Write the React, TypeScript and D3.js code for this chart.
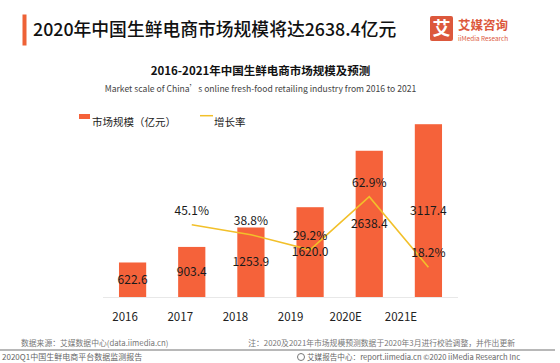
import React from 'react';
import * as d3 from 'd3';

const years = ['2016', '2017', '2018', '2019', '2020E', '2021E'];
const market = [622.6, 903.4, 1253.9, 1620.0, 2638.4, 3117.4];
const marketLabels = ['622.6', '903.4', '1253.9', '1620.0', '2638.4', '3117.4'];
const growth: (number | null)[] = [null, 45.1, 38.8, 29.2, 62.9, 18.2];

const title = '2020年中国生鲜电商市场规模将达2638.4亿元';
const chartTitle = '2016-2021年中国生鲜电商市场规模及预测';
const chartSubtitle = 'Market scale of China’s online fresh-food retailing industry from 2016 to 2021';
const legendBar = '市场规模（亿元）';
const legendLine = '增长率';
const sourceText = '数据来源：艾媒数据中心(data.iimedia.cn)';
const noteText = '注：2020及2021年市场规模预测数据于2020年3月进行校验调整，并作出更新';
const reportText = '2020Q1中国生鲜电商平台数据监测报告';
const copyrightText = '艾媒报告中心：report.iimedia.cn  ©2020  iiMedia Research Inc';

const W = 560;
const H = 363;
const FONT = '"Noto Sans CJK SC", "Noto Sans", sans-serif';
const BAR = '#F5623A';
const LINE = '#F2C02A';
const BRAND = '#DC583C';

export default function App() {
  const x = d3.scaleBand<string>().domain(years).range([103, 458]).paddingInner(0.54).paddingOuter(0.27);
  const xTick = d3.scaleBand<string>().domain(years).range([97.5, 428.5]);
  const y = d3.scaleLinear().domain([0, 3500]).range([297, 103]);
  const y2 = d3.scaleLinear().domain([0, 70]).range([296, 185.4]);

  const pts = years
    .map((yr, i) => ({ yr, v: growth[i] }))
    .filter((d) => d.v !== null) as { yr: string; v: number }[];
  const line = d3
    .line<{ yr: string; v: number }>()
    .x((d) => (x(d.yr) ?? 0) + x.bandwidth() / 2)
    .y((d) => y2(d.v));

  return (
    <svg width={W} height={H} style={{ position: 'absolute', left: 0, top: 0, background: '#fff' }} fontFamily={FONT}>
      {/* header */}
      <rect x={22.5} y={14.5} width={4} height={31} fill="#EE6236" />
      <text x={33} y={36} fontSize={17.8} fill="#111" fontWeight={500}>{title}</text>
      {/* logo */}
      <rect x={430} y={16} width={23} height={25} rx={2} fill={BRAND} />
      <text x={441.5} y={35} fontSize={18} fontWeight={700} fill="#fff" textAnchor="middle">艾</text>
      <text x={458} y={29.5} fontSize={12.5} fontWeight={700} fill={BRAND}>艾媒咨询</text>
      <text x={458} y={40.5} fontSize={6.4} fill={BRAND}>iiMedia Research</text>

      {/* chart titles */}
      <text x={260.5} y={75} fontSize={11.5} fontWeight={700} fill="#111" textAnchor="middle">{chartTitle}</text>
      <text x={260.5} y={92} fontSize={8.6} fill="#444" textAnchor="middle">{chartSubtitle}</text>

      {/* legend */}
      <rect x={79} y={114} width={11} height={5} fill={BAR} />
      <text x={92} y={125.5} fontSize={10.5} fill="#222">{legendBar}</text>
      <line x1={200} x2={213} y1={115.7} y2={115.7} stroke={LINE} strokeWidth={1.5} />
      <text x={214} y={125.5} fontSize={10.5} fill="#222">{legendLine}</text>

      {/* axis line */}
      <line x1={103} x2={458} y1={297.5} y2={297.5} stroke="#e8e8e8" strokeWidth={1} />

      {/* bars */}
      {years.map((yr, i) => (
        <rect key={yr} x={x(yr)} y={y(market[i])} width={x.bandwidth()} height={y(0) - y(market[i])} fill={BAR} />
      ))}

      {/* line */}
      <path d={line(pts) ?? ''} fill="none" stroke={LINE} strokeWidth={1.6} />

      {/* bar labels */}
      {years.map((yr, i) => (
        <text
          key={'bl' + yr}
          x={(x(yr) ?? 0) + x.bandwidth() / 2}
          y={(y(market[i]) + y(0)) / 2}
          dy="0.35em"
          fontSize={12}
          fill="#1a1a1a"
          textAnchor="middle"
        >
          {marketLabels[i]}
        </text>
      ))}

      {/* growth labels */}
      {pts.map((d) => (
        <text
          key={'gl' + d.yr}
          x={(x(d.yr) ?? 0) + x.bandwidth() / 2}
          y={y2(d.v) - 14}
          dy="0.35em"
          fontSize={12}
          fill="#1a1a1a"
          textAnchor="middle"
        >
          {d.v.toFixed(1)}%
        </text>
      ))}

      {/* tick labels */}
      {years.map((yr) => (
        <text key={'t' + yr} x={(xTick(yr) ?? 0) + xTick.bandwidth() / 2} y={321} fontSize={11.5} fill="#222" textAnchor="middle">
          {yr}
        </text>
      ))}

      {/* footer */}
      <text x={21} y={345.5} fontSize={7.8} fill="#777">{sourceText}</text>
      <text x={515} y={345.5} fontSize={7.8} fill="#777" textAnchor="end">{noteText}</text>
      <line x1={0} x2={555} y1={350} y2={350} stroke="#a0a0a0" strokeWidth={1.5} />
      <text x={2} y={360} fontSize={8} fill="#666">{reportText}</text>
      <circle cx={301} cy={357} r={3.5} fill="none" stroke="#777" strokeWidth={1} />
      <text x={307} y={360} fontSize={7.6} fill="#666">{copyrightText}</text>
    </svg>
  );
}
